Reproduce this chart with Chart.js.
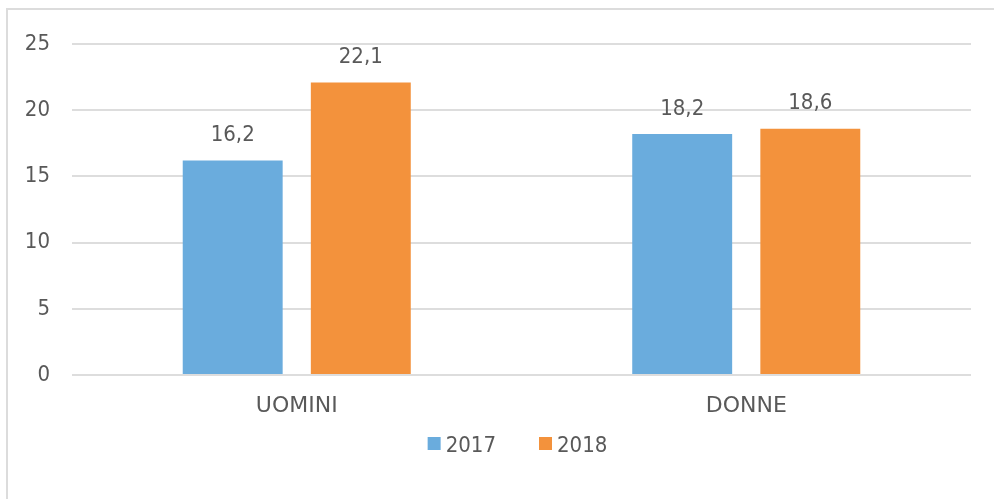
<!DOCTYPE html>
<html>
<head>
<meta charset="utf-8">
<script src="https://cdn.jsdelivr.net/npm/chart.js@4"></script>
<style>
  html, body { margin: 0; padding: 0; background: #fff; overflow: hidden; }
  #frame { position: absolute; left: 6px; top: 8px; width: 1100px; height: 600px; border: 2px solid #dcdcdc; }
  #wrap { position: absolute; left: 0; top: 0; width: 994px; height: 499px; }
</style>
</head>
<body>
<div id="frame"></div>
<div id="wrap"><canvas id="chart" width="994" height="499"></canvas></div>
<script>
const categories = ['UOMINI', 'DONNE'];
const values2017 = [16.2, 18.2];
const values2018 = [22.1, 18.6];
const seriesLabels = ['2017', '2018'];
const yTicks = [0, 5, 10, 15, 20, 25];

const TEXT = '#595959';
const NUM_FONT = '"DejaVu Sans Condensed", "DejaVu Sans", sans-serif';
const CAT_FONT = '"DejaVu Sans", sans-serif';

// value labels above each bar, comma as decimal separator
const barLabels = {
  id: 'barLabels',
  afterDatasetsDraw(chart) {
    const { ctx } = chart;
    ctx.save();
    ctx.fillStyle = TEXT;
    ctx.font = '22px ' + NUM_FONT;
    ctx.textAlign = 'center';
    ctx.textBaseline = 'middle';
    chart.data.datasets.forEach((ds, i) => {
      chart.getDatasetMeta(i).data.forEach((bar, j) => {
        ctx.fillText(ds.data[j].toFixed(1).replace('.', ','), bar.x, bar.y - 25);
      });
    });
    ctx.restore();
  },
};

// legend drawn by hand so the spacing matches
const bottomLegend = {
  id: 'bottomLegend',
  afterDraw(chart) {
    const { ctx, chartArea } = chart;
    const box = 13, gap = 5, space = 43, cy = 445;
    ctx.save();
    ctx.font = '22px ' + NUM_FONT;
    ctx.textBaseline = 'middle';
    const items = chart.data.datasets.map(ds => ({
      text: ds.label, color: ds.backgroundColor, w: box + gap + ctx.measureText(ds.label).width,
    }));
    const total = items.reduce((s, it) => s + it.w, 0) + space * (items.length - 1);
    let x = (chartArea.left + chartArea.right) / 2 - 4 - total / 2;
    items.forEach((it) => {
      ctx.fillStyle = it.color;
      ctx.fillRect(x, cy - 8, box, box);
      ctx.fillStyle = TEXT;
      ctx.fillText(it.text, x + box + gap, cy + 1);
      x += it.w + space;
    });
    ctx.restore();
  },
};

new Chart(document.getElementById('chart'), {
  type: 'bar',
  data: {
    labels: categories,
    datasets: [
      { label: seriesLabels[0], data: values2017, backgroundColor: '#6aacdd' },
      { label: seriesLabels[1], data: values2018, backgroundColor: '#f3923c' },
    ],
  },
  options: {
    responsive: false,
    animation: false,
    categoryPercentage: 0.57,
    barPercentage: 0.78,
    layout: { padding: { left: 0, right: 23, top: 44, bottom: 74 } },
    plugins: {
      legend: { display: false },
      tooltip: { enabled: false },
    },
    scales: {
      x: {
        grid: { display: false },
        border: { display: false },
        ticks: { color: TEXT, font: { family: CAT_FONT, size: 22 }, padding: 10 },
        afterFit(scale) { scale.height = 50; },
      },
      y: {
        min: 0,
        max: 25,
        afterBuildTicks(scale) { scale.ticks = yTicks.map(v => ({ value: v })); },
        grid: { color: '#dddddd', lineWidth: 2, drawTicks: false },
        border: { display: false },
        ticks: { color: TEXT, font: { family: NUM_FONT, size: 22 }, padding: 22 },
        afterFit(scale) { scale.width = 72; },
      },
    },
  },
  plugins: [barLabels, bottomLegend],
});
</script>
</body>
</html>
